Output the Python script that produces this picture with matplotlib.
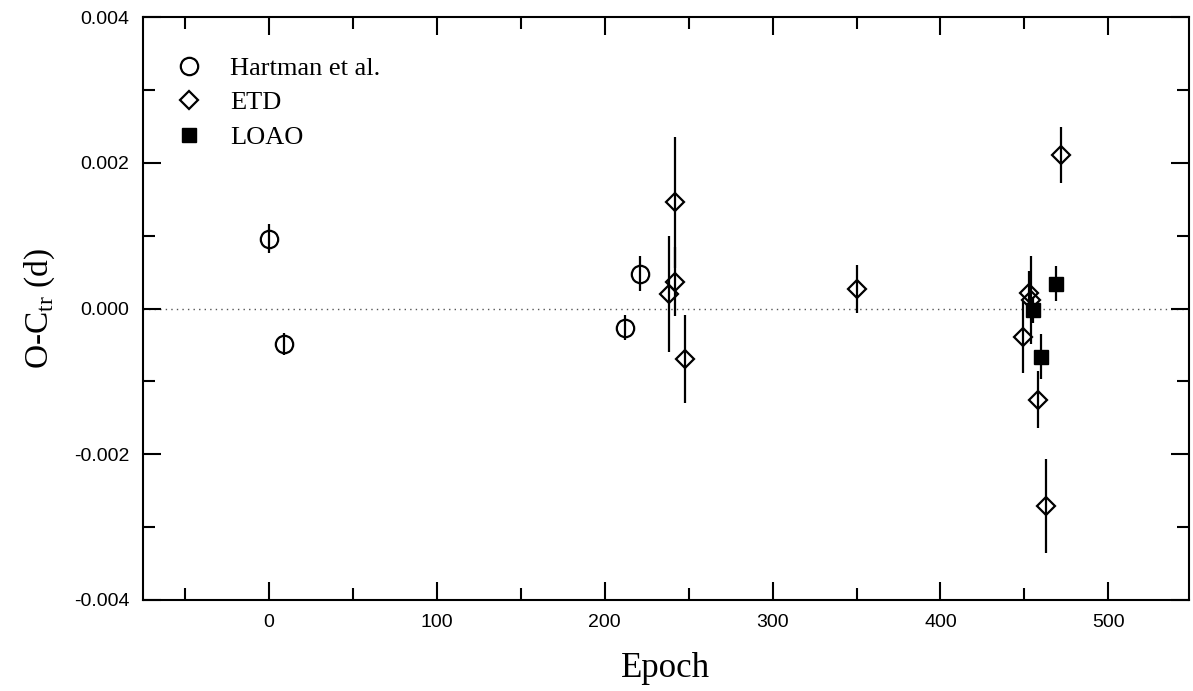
import matplotlib
matplotlib.use("Agg")
import matplotlib.pyplot as plt
from matplotlib.ticker import MultipleLocator, FormatStrFormatter

# Data
hart_epoch = [0, 9, 212, 221]
hart_oc = [0.00096, -0.00048, -0.00026, 0.00048]
hart_err = [0.00020, 0.00015, 0.00017, 0.00024]

etd_epoch = [238, 242, 242, 248, 350, 449, 453, 454, 458, 463, 472]
etd_oc = [0.00020, 0.00146, 0.00037, -0.00069, 0.00027, -0.00039, 0.00022, 0.00012, -0.00125, -0.00271, 0.00211]
etd_err = [0.00080, 0.00090, 0.00047, 0.00060, 0.00033, 0.00050, 0.00030, 0.00060, 0.00039, 0.00065, 0.00038]

loao_epoch = [455, 460, 469]
loao_oc = [-0.00002, -0.00066, 0.00034]
loao_err = [0.00018, 0.00031, 0.00024]

serif = ['Liberation Serif', 'DejaVu Serif']
sans = ['Liberation Sans', 'DejaVu Sans']

fig = plt.figure(figsize=(11.93, 6.91), dpi=100)
ax = fig.add_axes([0.1199, 0.1317, 0.8767, 0.8433])

ax.axhline(0, color='#555555', linestyle=(0, (1, 3)), linewidth=1.0, zorder=1)

ebkw = dict(fmt='none', ecolor='black', elinewidth=1.6, capsize=0, zorder=2)
ax.errorbar(hart_epoch, hart_oc, yerr=hart_err, **ebkw)
ax.errorbar(etd_epoch, etd_oc, yerr=etd_err, **ebkw)
ax.errorbar(loao_epoch, loao_oc, yerr=loao_err, **ebkw)

ax.plot(hart_epoch, hart_oc, linestyle='none', marker='o', markersize=12.5, mfc='none',
        mec='black', mew=1.6, label='Hartman et al.', zorder=3)
ax.plot(etd_epoch, etd_oc, linestyle='none', marker='D', markersize=9.5, mfc='none',
        mec='black', mew=1.6, label='ETD', zorder=3)
ax.plot(loao_epoch, loao_oc, linestyle='none', marker='s', markersize=10, mfc='black',
        mec='black', mew=1.0, label='LOAO', zorder=4)

ax.set_xlim(-75, 548)
ax.set_ylim(-0.004, 0.004)
ax.xaxis.set_major_locator(MultipleLocator(100))
ax.xaxis.set_minor_locator(MultipleLocator(50))
ax.yaxis.set_major_locator(MultipleLocator(0.002))
ax.yaxis.set_minor_locator(MultipleLocator(0.001))
ax.yaxis.set_major_formatter(FormatStrFormatter('%.3f'))

ax.tick_params(which='both', direction='in', top=True, right=True, width=1.5,
               labelsize=14, pad=10)
ax.tick_params(which='major', length=13)
ax.tick_params(which='minor', length=8.5)
for lab in ax.get_xticklabels() + ax.get_yticklabels():
    lab.set_family(sans)
for sp in ax.spines.values():
    sp.set_linewidth(1.5)

ax.set_xlabel('Epoch', family=serif, fontsize=25, labelpad=15)
ax.set_ylabel(r'O-C$_{\mathregular{tr}}$ (d)', family=serif, fontsize=24, labelpad=12)

leg = ax.legend(loc='upper left', bbox_to_anchor=(0.025, 0.933), frameon=False,
                prop={'family': serif, 'size': 19}, handletextpad=0.8,
                labelspacing=0.42, handlelength=1.5, borderaxespad=0,
                borderpad=0)

fig.savefig('out.png', dpi=100)
